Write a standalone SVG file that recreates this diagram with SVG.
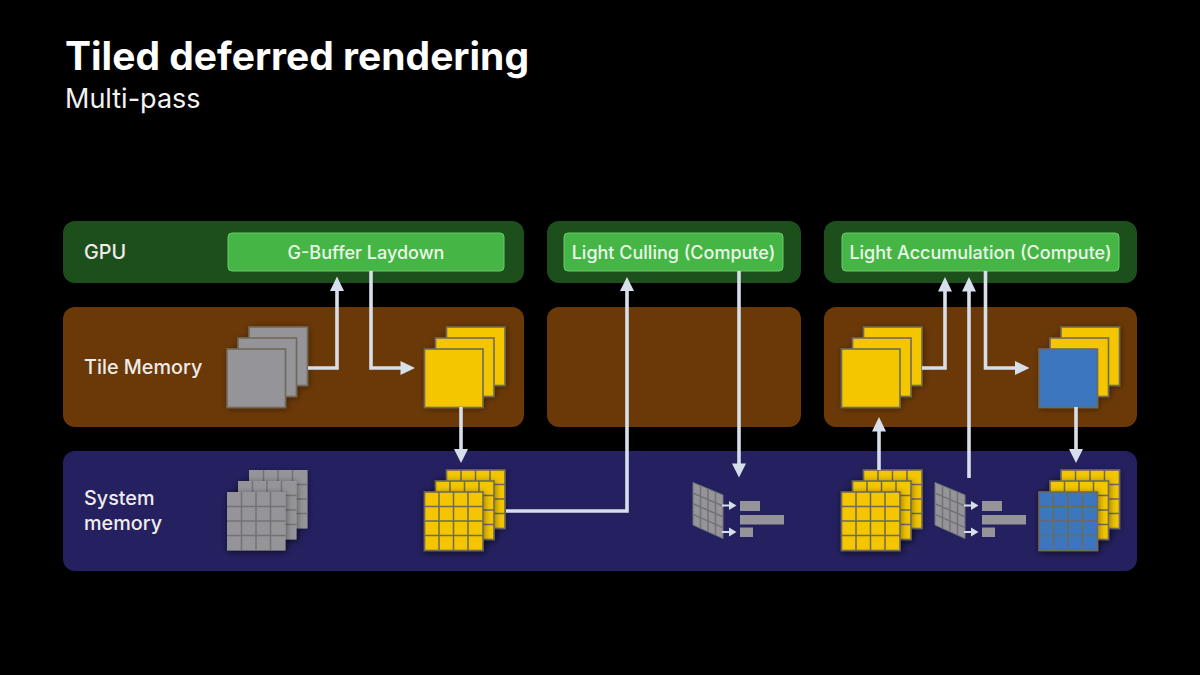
<svg xmlns="http://www.w3.org/2000/svg" width="1200" height="675" viewBox="0 0 1200 675">
<style>
text{font-family:"Inter","Liberation Sans",sans-serif;fill:#fff}
.title{font-size:39px;font-weight:700}
.sub{font-size:27px;font-weight:400;fill:#f2f2f2}
.lbl{font-size:19.8px;font-weight:500;fill:#f0ecea}
.btnt{font-size:18px;font-weight:500;fill:#eaf7e8;text-anchor:middle}
.gpu{fill:#1d4f1c}.tile{fill:#6b3908}.sys{fill:#252161}
.btn{fill:#45b645;stroke:#6cc96c;stroke-width:1}
.g{fill:#959599}.y{fill:#f3c600}.b{fill:#3b76bf}
.e{stroke:#6f6a5a;stroke-width:1.6}
.gl{stroke:#6f6a5a;stroke-width:1.5;fill:none}
.gg{stroke:#737377;stroke-width:1.5;fill:none}
.c{fill:none;stroke:#d6dfea;stroke-width:3.6}
.s{fill:none;stroke:#d6dfea;stroke-width:1.8}
.h{fill:#d6dfea}
.bar{fill:#959599}
</style>
<defs>
<filter id="sh" x="-30%" y="-30%" width="170%" height="170%"><feDropShadow dx="1" dy="1" stdDeviation="3" flood-color="#000" flood-opacity=".4"/></filter>
<path id="gridlines" d="M14.500 0V58.500M29 0V58.500M43.500 0V58.500M0 14.500H58.500M0 29H58.500M0 43.500H58.500"/>
<g id="frustum">
<polygon points="693,482.500 723,495 723,538.500 693,525" fill="#959599" stroke="#737377" stroke-width="1"/>
<path d="M700.500 485.600V528.400M708 488.800V531.600M715.500 491.900V535.100M693 493.100L723 506M693 503.800L723 516.800M693 514.400L723 527.600" class="gg"/>
<rect x="740" y="501" width="20" height="10" class="bar"/>
<rect x="740" y="515" width="44" height="9.500" class="bar"/>
<rect x="740" y="527.500" width="13" height="9.500" class="bar"/>
<path d="M722 505.500H730M722 532H730" class="s"/>
<path d="M729 501L736.500 505.500L729 510ZM729 527.500L736.500 532L729 536.500Z" class="h"/>
</g>
</defs>
<rect width="1200" height="675" fill="#000"/>
<text x="65" y="70" class="title">Tiled deferred rendering</text>
<text x="65" y="108" class="sub">Multi-pass</text>

<g id="panels">
<rect id="gpu-1" x="63" y="221" width="461" height="62" rx="12" class="gpu"/>
<rect id="gpu-2" x="547" y="221" width="254" height="62" rx="12" class="gpu"/>
<rect id="gpu-3" x="824" y="221" width="313" height="62" rx="12" class="gpu"/>
<rect id="tile-1" x="63" y="307" width="461" height="120" rx="12" class="tile"/>
<rect id="tile-2" x="547" y="307" width="254" height="120" rx="12" class="tile"/>
<rect id="tile-3" x="824" y="307" width="313" height="120" rx="12" class="tile"/>
<rect id="system" x="63" y="451" width="1074" height="120" rx="12" class="sys"/>
<text x="84" y="259" class="lbl">GPU</text>
<text x="84" y="374" class="lbl">Tile Memory</text>
<text x="84" y="505" class="lbl">System</text>
<text x="84" y="530" class="lbl">memory</text>
</g>

<g id="node-gbuffer"><rect x="228" y="233" width="276" height="38" rx="4" class="btn"/><text x="366" y="259" class="btnt">G-Buffer Laydown</text></g>
<g id="node-culling"><rect x="564" y="233" width="219" height="38" rx="4" class="btn"/><text x="673.500" y="259" class="btnt">Light Culling (Compute)</text></g>
<g id="node-accum"><rect x="842" y="233" width="277" height="38" rx="4" class="btn"/><text x="980.500" y="259" class="btnt">Light Accumulation (Compute)</text></g>

<g id="stack-gray-tile" filter="url(#sh)">
<rect x="249" y="327" width="58.500" height="58.500" class="g e"/>
<rect x="238" y="338" width="58.500" height="58.500" class="g e"/>
<rect x="227" y="349" width="58.500" height="58.500" class="g e"/>
</g>
<g id="stack-yellow-tile-1" filter="url(#sh)">
<rect x="446.500" y="327" width="58.500" height="58.500" class="y e"/>
<rect x="435.500" y="338" width="58.500" height="58.500" class="y e"/>
<rect x="424.500" y="349" width="58.500" height="58.500" class="y e"/>
</g>
<g id="stack-yellow-tile-2" filter="url(#sh)">
<rect x="863.500" y="327" width="58.500" height="58.500" class="y e"/>
<rect x="852.500" y="338" width="58.500" height="58.500" class="y e"/>
<rect x="841.500" y="349" width="58.500" height="58.500" class="y e"/>
</g>
<g id="stack-blue-tile" filter="url(#sh)">
<rect x="1061" y="327" width="58.500" height="58.500" class="y e"/>
<rect x="1050" y="338" width="58.500" height="58.500" class="y e"/>
<rect x="1039" y="349" width="58.500" height="58.500" class="b e"/>
</g>

<g id="stack-gray-sys" filter="url(#sh)">
<g transform="translate(249 470)"><rect width="58.500" height="58.500" class="g"/><use href="#gridlines" class="gg"/></g>
<g transform="translate(238 481)" filter="url(#sh)"><rect width="58.500" height="58.500" class="g"/><use href="#gridlines" class="gg"/></g>
<g transform="translate(227 492)" filter="url(#sh)"><rect width="58.500" height="58.500" class="g"/><use href="#gridlines" class="gg"/></g>
</g>
<g id="stack-yellow-sys-1" filter="url(#sh)">
<g transform="translate(446.500 470)"><rect width="58.500" height="58.500" class="y e"/><use href="#gridlines" class="gl"/></g>
<g transform="translate(435.500 481)" filter="url(#sh)"><rect width="58.500" height="58.500" class="y e"/><use href="#gridlines" class="gl"/></g>
<g transform="translate(424.500 492)" filter="url(#sh)"><rect width="58.500" height="58.500" class="y e"/><use href="#gridlines" class="gl"/></g>
</g>
<g id="stack-yellow-sys-2" filter="url(#sh)">
<g transform="translate(863.500 470)"><rect width="58.500" height="58.500" class="y e"/><use href="#gridlines" class="gl"/></g>
<g transform="translate(852.500 481)" filter="url(#sh)"><rect width="58.500" height="58.500" class="y e"/><use href="#gridlines" class="gl"/></g>
<g transform="translate(841.500 492)" filter="url(#sh)"><rect width="58.500" height="58.500" class="y e"/><use href="#gridlines" class="gl"/></g>
</g>
<g id="stack-blue-sys" filter="url(#sh)">
<g transform="translate(1061 470)"><rect width="58.500" height="58.500" class="y e"/><use href="#gridlines" class="gl"/></g>
<g transform="translate(1050 481)" filter="url(#sh)"><rect width="58.500" height="58.500" class="y e"/><use href="#gridlines" class="gl"/></g>
<g transform="translate(1039 492)" filter="url(#sh)"><rect width="58.500" height="58.500" class="b e"/><use href="#gridlines" class="gl"/></g>
</g>
<g id="frustum-1"><use href="#frustum"/></g>
<g id="frustum-2"><use href="#frustum" x="242"/></g>

<g id="connectors">
<path d="M308 368H337V290" class="c"/><polygon points="337,276.500 344,291 330,291" class="h"/>
<path d="M371 271V368H401" class="c"/><polygon points="415,368 400.500,361 400.500,375" class="h"/>
<path d="M461 407V450" class="c"/><polygon points="461,463 454,449 468,449" class="h"/>
<path d="M506 511H627V290" class="c"/><polygon points="627,277 634,291 620,291" class="h"/>
<path d="M739 271V464" class="c"/><polygon points="739,477.500 732,463.500 746,463.500" class="h"/>
<path d="M879 470V431" class="c"/><polygon points="879,417 886,431.500 872,431.500" class="h"/>
<path d="M922 368H945V291" class="c"/><polygon points="945,277 952,291.500 938,291.500" class="h"/>
<path d="M969 478V291" class="c"/><polygon points="969,277 976,291.500 962,291.500" class="h"/>
<path d="M985.500 271V368H1016" class="c"/><polygon points="1029.500,368 1015,361 1015,375" class="h"/>
<path d="M1076 407V450" class="c"/><polygon points="1076,463 1069,449 1083,449" class="h"/>
</g>
</svg>
